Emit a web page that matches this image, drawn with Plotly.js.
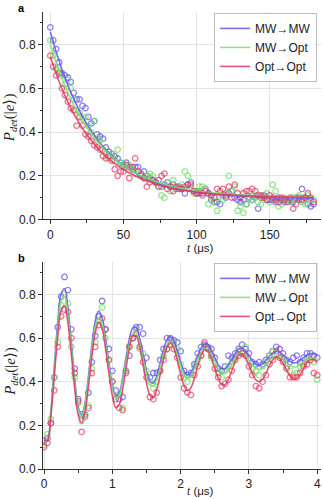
<!DOCTYPE html>
<html>
<head>
<meta charset="utf-8">
<script src="https://cdn.plot.ly/plotly-3.0.1.min.js"></script>
<style>html,body{margin:0;padding:0;background:#fff;}#chart{width:323px;height:499px;}</style>
</head>
<body>
<div id="chart"></div>
<script>
// ---------- panel a : decay ----------
const tA = [0,2,4,6,8,10,12,14,16,18,20,22,24,26,28,30,32,34,36,38,40,42,44,46,48,50,52,54,56,58,60,62,64,66,68,70,72,74,76,78,80,82,84,86,88,90,92,94,96,98,100,102,104,106,108,110,112,114,116,118,120,122,124,126,128,130,132,134,136,138,140,142,144,146,148,150,152,154,156,158,160,162,164,166,168,170,172,174,176,178,180];
const aMWMW = [.88,.82,.78,.72,.67,.66,.65,.63,.58,.55,.55,.52,.51,.47,.44,.45,.39,.38,.37,.33,.31,.30,.29,.28,.26,.25,.26,.24,.23,.24,.24,.21,.22,.20,.19,.18,.17,.18,.15,.16,.17,.15,.16,.14,.15,.14,.12,.16,.17,.13,.12,.13,.12,.14,.12,.09,.08,.08,.07,.11,.10,.12,.13,.10,.09,.08,.09,.07,.10,.09,.10,.05,.10,.11,.09,.09,.09,.08,.10,.09,.08,.09,.09,.08,.10,.09,.14,.10,.07,.06,.07];
const aMWOpt = [.82,.75,.69,.68,.66,.62,.64,.60,.55,.50,.49,.46,.47,.43,.40,.45,.37,.36,.32,.30,.28,.30,.27,.32,.26,.25,.24,.25,.23,.21,.22,.20,.19,.20,.21,.20,.17,.15,.11,.10,.17,.13,.18,.15,.14,.16,.22,.20,.15,.12,.13,.15,.15,.14,.07,.10,.08,.04,.11,.09,.12,.20,.13,.15,.04,.06,.03,.07,.10,.09,.11,.08,.07,.10,.12,.08,.16,.13,.06,.07,.10,.09,.08,.10,.09,.11,.08,.07,.11,.09,.09];
const aOptOpt = [.75,.70,.66,.67,.60,.57,.54,.51,.50,.43,.47,.43,.39,.38,.36,.34,.33,.32,.29,.28,.29,.27,.23,.20,.22,.22,.25,.19,.24,.28,.22,.20,.19,.15,.17,.18,.17,.15,.20,.21,.14,.15,.13,.15,.14,.14,.15,.16,.16,.13,.12,.12,.11,.13,.12,.11,.10,.14,.13,.14,.11,.15,.10,.16,.12,.10,.12,.13,.13,.14,.13,.11,.11,.10,.09,.11,.10,.09,.08,.10,.09,.08,.10,.05,.07,.10,.09,.10,.12,.10,.08];
const tAfit = [0,5,10,15,20,25,30,35,40,45,50,55,60,65,70,75,80,85,90,95,100,105,110,115,120,125,130,135,140,145,150,155,160,165,170,175,180];
const aFitMWMW = [.860,.746,.649,.566,.497,.436,.386,.342,.305,.274,.247,.225,.205,.189,.175,.163,.153,.144,.137,.131,.126,.121,.117,.113,.111,.109,.106,.105,.103,.102,.101,.100,.100,.099,.098,.098,.097];
const aFitMWOpt = [.800,.699,.612,.538,.475,.421,.374,.335,.301,.272,.247,.225,.207,.192,.178,.167,.157,.149,.142,.136,.131,.127,.122,.120,.117,.114,.112,.111,.109,.108,.106,.106,.105,.104,.104,.103,.103];
const aFitOptOpt = [.745,.649,.567,.497,.439,.388,.345,.308,.277,.251,.228,.210,.193,.179,.168,.157,.149,.141,.135,.130,.126,.122,.119,.115,.114,.112,.110,.108,.107,.106,.105,.105,.104,.103,.103,.102,.102];

// ---------- panel b : Rabi ----------
const tB = [0,.05,.1,.15,.2,.25,.3,.35,.4,.45,.5,.55,.6,.65,.7,.75,.8,.85,.9,.95,1,1.05,1.1,1.15,1.2,1.25,1.3,1.35,1.4,1.45,1.5,1.55,1.6,1.65,1.7,1.75,1.8,1.85,1.9,1.95,2,2.05,2.1,2.15,2.2,2.25,2.3,2.35,2.4,2.45,2.5,2.55,2.6,2.65,2.7,2.75,2.8,2.85,2.9,2.95,3,3.05,3.1,3.15,3.2,3.25,3.3,3.35,3.4,3.45,3.5,3.55,3.6,3.65,3.7,3.75,3.8,3.85,3.9,3.95,4];
const bMWMW = [.13,.14,.21,.42,.65,.79,.88,.82,.64,.46,.32,.25,.25,.35,.49,.61,.70,.77,.64,.55,.45,.36,.32,.33,.45,.52,.60,.65,.65,.62,.51,.42,.44,.44,.50,.55,.60,.60,.59,.58,.54,.45,.43,.44,.48,.53,.56,.57,.56,.55,.51,.46,.45,.47,.52,.51,.53,.55,.57,.55,.53,.49,.48,.49,.48,.50,.52,.54,.56,.55,.53,.50,.49,.51,.52,.49,.51,.53,.53,.52,.51];
const bMWOpt = [.11,.16,.23,.42,.58,.75,.80,.76,.56,.42,.30,.22,.25,.29,.46,.58,.68,.74,.60,.50,.40,.33,.34,.28,.45,.56,.60,.64,.55,.53,.45,.40,.37,.40,.45,.52,.55,.59,.58,.55,.48,.42,.40,.43,.47,.50,.52,.56,.55,.51,.49,.44,.42,.45,.47,.49,.51,.54,.53,.56,.50,.46,.45,.43,.47,.49,.52,.54,.53,.51,.50,.47,.45,.43,.44,.47,.48,.51,.50,.49,.41];
const bOptOpt = [.10,.12,.21,.36,.56,.70,.73,.72,.60,.44,.31,.17,.24,.28,.44,.56,.66,.69,.64,.50,.40,.32,.28,.27,.44,.56,.60,.62,.56,.49,.42,.33,.32,.35,.45,.50,.55,.57,.55,.51,.42,.37,.35,.34,.43,.47,.52,.58,.55,.52,.46,.42,.38,.39,.41,.45,.50,.52,.53,.52,.47,.43,.38,.37,.40,.43,.48,.50,.54,.51,.49,.46,.42,.42,.42,.44,.47,.48,.50,.44,.43];
const bFitMWMW = [.136,.136,.264,.467,.669,.802,.826,.739,.580,.410,.285,.248,.303,.424,.566,.679,.724,.694,.603,.487,.387,.337,.349,.416,.510,.597,.647,.648,.600,.526,.451,.402,.394,.425,.484,.547,.592,.607,.587,.542,.489,.448,.431,.442,.476,.519,.555,.574,.569,.545,.510,.478,.460,.460,.477,.504,.531,.550,.553,.541,.520,.497,.480,.474,.482,.498,.518,.532,.539,.535,.523,.507,.493,.487,.488,.497,.510,.522,.529,.528,.522];
const bFitMWOpt = [.135,.135,.256,.449,.641,.767,.790,.708,.557,.395,.276,.241,.293,.408,.543,.651,.693,.665,.578,.468,.373,.326,.337,.401,.490,.573,.620,.621,.576,.505,.434,.387,.380,.409,.465,.525,.568,.582,.563,.520,.470,.431,.415,.425,.458,.499,.533,.551,.546,.523,.490,.460,.443,.443,.459,.484,.510,.528,.531,.519,.500,.478,.462,.456,.463,.479,.498,.511,.518,.514,.502,.487,.474,.468,.469,.478,.490,.501,.508,.507,.501];
const bFitOptOpt = [.133,.130,.242,.422,.604,.726,.748,.670,.525,.366,.248,.211,.262,.377,.514,.625,.672,.643,.553,.437,.335,.282,.294,.362,.460,.553,.609,.610,.559,.477,.394,.339,.327,.363,.430,.503,.558,.576,.553,.499,.434,.382,.359,.372,.415,.471,.520,.546,.541,.508,.460,.415,.387,.386,.411,.451,.493,.521,.528,.509,.476,.438,.409,.400,.411,.439,.474,.501,.514,.507,.484,.454,.427,.412,.415,.433,.460,.486,.501,.502,.488];

const seriesNames = ['MW→MW','MW→Opt','Opt→Opt'];
const colors = ['rgb(105,85,240)','rgb(120,225,110)','rgb(225,55,95)'];
const markerColors = ['rgba(105,85,240,0.75)','rgba(110,225,100,0.75)','rgba(225,55,95,0.7)'];

const traces = [];
const aData = [aMWMW, aMWOpt, aOptOpt];
const aFits = [aFitMWMW, aFitMWOpt, aFitOptOpt];
const bData = [bMWMW, bMWOpt, bOptOpt];
const bFits = [bFitMWMW, bFitMWOpt, bFitOptOpt];

for (let i = 0; i < 3; i++) {
  traces.push({x: tA, y: aData[i], xaxis: 'x', yaxis: 'y', mode: 'markers', type: 'scatter', showlegend: false,
    marker: {symbol: 'circle-open', size: 5.5, color: markerColors[i], line: {width: 1.3}}});
}
for (let i = 0; i < 3; i++) {
  traces.push({x: tAfit, y: aFits[i], xaxis: 'x', yaxis: 'y', mode: 'lines', type: 'scatter', name: seriesNames[i],
    legend: 'legend', line: {color: colors[i], width: 1.6, shape: 'spline'}, opacity: 0.85});
}
for (let i = 0; i < 3; i++) {
  traces.push({x: tB, y: bData[i], xaxis: 'x2', yaxis: 'y2', mode: 'markers', type: 'scatter', showlegend: false,
    marker: {symbol: 'circle-open', size: 5.5, color: markerColors[i], line: {width: 1.3}}});
}
for (let i = 0; i < 3; i++) {
  traces.push({x: tB, y: bFits[i], xaxis: 'x2', yaxis: 'y2', mode: 'lines', type: 'scatter', name: seriesNames[i],
    legend: 'legend2', line: {color: colors[i], width: 1.6, shape: 'spline'}, opacity: 0.85});
}

const tickFont = {family: 'Liberation Sans, Arial, sans-serif', size: 12, color: '#222'};
const axisCommon = {
  showline: true, linecolor: '#333', linewidth: 1, ticks: 'outside', ticklen: 4, tickcolor: '#333',
  tickfont: tickFont, gridcolor: '#e4e4e4', gridwidth: 1, zeroline: false, mirror: false
};
const yCommon = Object.assign({}, axisCommon, {range: [0, 0.95], dtick: 0.2, tick0: 0, tickformat: '.1f',
  minor: {ticks: 'outside', ticklen: 2.5, dtick: 0.1, tick0: 0, tickcolor: '#333', showgrid: false}});

const legendCommon = {
  xanchor: 'right', yanchor: 'top', bgcolor: 'rgba(255,255,255,0.9)', bordercolor: '#bbb', borderwidth: 1,
  font: {family: 'Liberation Sans, DejaVu Sans, Arial, sans-serif', size: 12, color: '#222'}, itemwidth: 30, tracegroupgap: 0
};

const layout = {
  width: 323, height: 499,
  margin: {l: 43, r: 2, t: 12, b: 30},
  paper_bgcolor: '#fff', plot_bgcolor: '#fff',
  showlegend: true,
  xaxis: Object.assign({}, axisCommon, {domain: [0, 1], anchor: 'y', range: [-5, 185], dtick: 50, tick0: 0,
    minor: {ticks: 'outside', ticklen: 2.5, dtick: 25, tick0: 0, tickcolor: '#333', showgrid: false}}),
  yaxis: Object.assign({}, yCommon, {domain: [0.546, 1], anchor: 'x'}),
  xaxis2: Object.assign({}, axisCommon, {domain: [0, 1], anchor: 'y2', range: [-0.015, 4.055], dtick: 1, tick0: 0,
    minor: {ticks: 'outside', ticklen: 2.5, dtick: 0.5, tick0: 0, tickcolor: '#333', showgrid: false}}),
  yaxis2: Object.assign({}, yCommon, {domain: [0, 0.4536], anchor: 'x2'}),
  legend: Object.assign({}, legendCommon, {x: 0.986, y: 0.998}),
  legend2: Object.assign({}, legendCommon, {x: 0.986, y: 0.451}),
  annotations: [
    {text: '<b>a</b>', xref: 'paper', yref: 'paper', x: -0.076, y: 1.009, showarrow: false, xanchor: 'center', yanchor: 'middle',
      font: {family: 'Liberation Sans, Arial, sans-serif', size: 11, color: '#000'}},
    {text: '<b>b</b>', xref: 'paper', yref: 'paper', x: -0.076, y: 0.462, showarrow: false, xanchor: 'center', yanchor: 'middle',
      font: {family: 'Liberation Sans, Arial, sans-serif', size: 11, color: '#000'}},
    {text: '<i>P</i><sub><i>det</i></sub>(|<i>e</i>⟩)', xref: 'paper', yref: 'paper', x: -0.118, y: 0.768, textangle: -90,
      showarrow: false, xanchor: 'center', yanchor: 'middle', font: {family: 'Liberation Serif, serif', size: 15, color: '#222'}},
    {text: '<i>P</i><sub><i>det</i></sub>(|<i>e</i>⟩)', xref: 'paper', yref: 'paper', x: -0.118, y: 0.213, textangle: -90,
      showarrow: false, xanchor: 'center', yanchor: 'middle', font: {family: 'Liberation Serif, serif', size: 15, color: '#222'}},
    {text: '<i style="font-family:Liberation Serif">t</i> (μs)', xref: 'paper', yref: 'paper', x: 0.565, y: 0.5011,
      showarrow: false, xanchor: 'center', yanchor: 'top', font: {family: 'Liberation Sans, Arial, sans-serif', size: 11.5, color: '#222'}},
    {text: '<i style="font-family:Liberation Serif">t</i> (μs)', xref: 'paper', yref: 'paper', x: 0.567, y: -0.0656,
      showarrow: false, xanchor: 'center', yanchor: 'bottom', font: {family: 'Liberation Sans, Arial, sans-serif', size: 11.5, color: '#222'}}
  ]
};

Plotly.newPlot('chart', traces, layout, {staticPlot: true, displayModeBar: false});
</script>
</body>
</html>
